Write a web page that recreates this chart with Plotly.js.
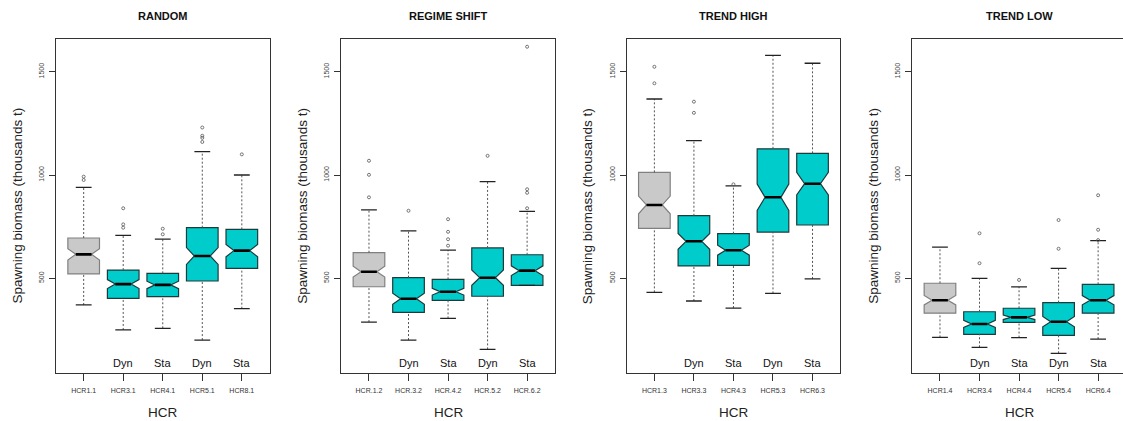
<!DOCTYPE html>
<html><head><meta charset="utf-8">
<script src="https://cdn.plot.ly/plotly-3.0.1.min.js"></script>
<style>html,body{margin:0;padding:0;overflow:hidden;background:#fff}</style>
</head><body><div id="chart"></div>
<script>
// ---- data (thousands t) ----
const scenarios = ['RANDOM', 'REGIME SHIFT', 'TREND HIGH', 'TREND LOW'];
const hcrLabels = [
  ['HCR1.1', 'HCR3.1', 'HCR4.1', 'HCR5.1', 'HCR8.1'],
  ['HCR.1.2', 'HCR.3.2', 'HCR.4.2', 'HCR.5.2', 'HCR.6.2'],
  ['HCR1.3', 'HCR3.3', 'HCR4.3', 'HCR5.3', 'HCR6.3'],
  ['HCR1.4', 'HCR3.4', 'HCR4.4', 'HCR5.4', 'HCR6.4']
];
const ruleType = ['', 'Dyn', 'Sta', 'Dyn', 'Sta'];
const lowerWhisker = [
  [371, 250, 258, 201, 353],
  [288, 201, 306, 156, 466],
  [432, 390, 356, 427, 497],
  [214, 166, 213, 137, 206]
];
const q1 = [
  [521, 403, 411, 487, 548],
  [459, 335, 393, 413, 466],
  [742, 560, 563, 724, 758],
  [331, 229, 287, 224, 331]
];
const median = [
  [616, 472, 468, 608, 634],
  [532, 401, 435, 503, 537],
  [855, 679, 636, 892, 958],
  [394, 279, 311, 290, 394]
];
const q3 = [
  [695, 540, 524, 745, 737],
  [624, 503, 495, 647, 614],
  [1013, 803, 716, 1127, 1105],
  [476, 338, 355, 382, 471]
];
const upperWhisker = [
  [940, 708, 690, 1113, 1000],
  [831, 730, 636, 968, 824],
  [1368, 1166, 947, 1579, 1541],
  [651, 500, 458, 548, 682]
];
const outliers = [
  [[976, 992], [745, 761, 839], [713, 740], [1160, 1180, 1190, 1230], [1100]],
  [[892, 1001, 1069], [827], [658, 689, 725, 786], [1093], [839, 914, 931, 1621]],
  [[1444, 1524], [1301, 1355], [955], [], []],
  [[], [573, 718], [492], [643, 782], [685, 735, 902]]
];
const nRuns = 100;  // simulations per box (sets the notch span, R: 1.58*IQR/sqrt(n))

// ---- layout helpers ----
const W = 1127, H = 421;
const panelLeft = [56, 341.3, 626.7, 912.3];
const panelWidth = 213.5;
const plotTop = 39.3, plotBottom = 372.7;
const GRAY = '#c9c9c9', CYAN = '#00cccc';
const FONT = 'Liberation Sans, Arial, sans-serif';

const traces = [];
const layout = {
  width: W, height: H,
  margin: {l: 0, r: 0, t: 0, b: 0},
  paper_bgcolor: '#fff', plot_bgcolor: '#fff',
  showlegend: false, boxmode: 'overlay',
  font: {family: FONT, color: '#222'},
  annotations: []
};

scenarios.forEach((name, p) => {
  const xs = p === 0 ? '' : String(p + 1);
  const xa = 'x' + xs, ya = 'y' + xs;
  const pos = [1, 2, 3, 4, 5];
  const span = q1[p].map((v, i) => 1.58 * (q3[p][i] - v) / Math.sqrt(nRuns));

  // whiskers (dashed) and staples
  const wx = [], wy = [], sx = [], sy = [];
  pos.forEach((x, i) => {
    wx.push(x, x, null, x, x, null);
    wy.push(lowerWhisker[p][i], q1[p][i], null, q3[p][i], upperWhisker[p][i], null);
    sx.push(x - 0.2, x + 0.2, null, x - 0.2, x + 0.2, null);
    sy.push(lowerWhisker[p][i], lowerWhisker[p][i], null, upperWhisker[p][i], upperWhisker[p][i], null);
  });
  traces.push({type: 'scatter', mode: 'lines', x: wx, y: wy, xaxis: xa, yaxis: ya,
    line: {color: '#555', width: 1, dash: '2px,2px'}, hoverinfo: 'skip'});
  traces.push({type: 'scatter', mode: 'lines', x: sx, y: sy, xaxis: xa, yaxis: ya,
    line: {color: '#222', width: 1.3}, hoverinfo: 'skip'});

  // boxes
  const groups = [{idx: [0], fill: GRAY, line: '#808080'}, {idx: [1, 2, 3, 4], fill: CYAN, line: '#1f3a3a'}];
  groups.forEach(g => {
    traces.push({
      type: 'box', xaxis: xa, yaxis: ya,
      x: g.idx.map(i => pos[i]),
      q1: g.idx.map(i => q1[p][i]),
      median: g.idx.map(i => median[p][i]),
      q3: g.idx.map(i => q3[p][i]),
      lowerfence: g.idx.map(i => q1[p][i]),
      upperfence: g.idx.map(i => q3[p][i]),
      notchspan: g.idx.map(i => span[i]),
      notched: true, notchwidth: 0.25,
      width: 0.8, whiskerwidth: 0, boxpoints: false,
      fillcolor: g.fill, line: {color: g.line, width: 1.2}, hoverinfo: 'skip'
    });
  });

  // thick median bars
  const mx = [], my = [];
  pos.forEach((x, i) => { mx.push(x - 0.2, x + 0.2, null); my.push(median[p][i], median[p][i], null); });
  traces.push({type: 'scatter', mode: 'lines', x: mx, y: my, xaxis: xa, yaxis: ya,
    line: {color: '#000', width: 2.6}, hoverinfo: 'skip'});

  // outliers
  const ox = [], oy = [];
  outliers[p].forEach((arr, i) => arr.forEach(v => { ox.push(pos[i]); oy.push(v); }));
  traces.push({type: 'scatter', mode: 'markers', x: ox, y: oy, xaxis: xa, yaxis: ya,
    marker: {symbol: 'circle-open', size: 3, color: '#555', line: {width: 0.8, color: '#555'}},
    hoverinfo: 'skip'});

  const d0 = panelLeft[p] / W, d1 = (panelLeft[p] + panelWidth) / W;
  layout['xaxis' + xs] = {
    domain: [d0, Math.min(d1, 1)], range: [0.3, 5.7], anchor: ya,
    tickmode: 'array', tickvals: pos, ticktext: hcrLabels[p],
    ticks: 'outside', ticklen: 7, tickwidth: 1, tickcolor: '#333',
    tickfont: {size: 7, color: '#333', family: FONT}, ticklabelstandoff: 4,
    showline: true, mirror: true, linecolor: '#333', linewidth: 1.2,
    showgrid: false, zeroline: false, fixedrange: true
  };
  layout['yaxis' + xs] = {
    domain: [1 - plotBottom / H, 1 - plotTop / H], range: [43, 1657], anchor: xa,
    tickmode: 'array', tickvals: [500, 1000, 1500], ticktext: ['500', '1000', '1500'],
    ticks: 'outside', ticklen: 6, tickwidth: 1, tickcolor: '#333', tickangle: -90,
    tickfont: {size: 7, color: '#444', family: FONT}, ticklabelstandoff: 2,
    showline: true, mirror: true, linecolor: '#333', linewidth: 1.2,
    showgrid: false, zeroline: false, fixedrange: true
  };

  const cx = (panelLeft[p] + panelWidth / 2) / W;
  layout.annotations.push({text: '<b>' + name + '</b>', xref: 'paper', yref: 'paper',
    x: cx, y: 1 - 16 / H, xanchor: 'center', yanchor: 'middle', showarrow: false,
    font: {size: 11, color: '#111', family: FONT}});
  layout.annotations.push({text: 'HCR', xref: 'paper', yref: 'paper',
    x: cx, y: 1 - 412 / H, xanchor: 'center', yanchor: 'middle', showarrow: false,
    font: {size: 13.5, color: '#222', family: FONT}});
  layout.annotations.push({text: 'Spawning biomass (thousands t)', xref: 'paper', yref: 'paper',
    x: (panelLeft[p] - 39.5) / W, y: 1 - (plotTop + plotBottom) / 2 / H, textangle: -90,
    xanchor: 'center', yanchor: 'middle', showarrow: false,
    font: {size: 13.5, color: '#222', family: FONT}});
  ruleType.forEach((t, i) => {
    if (!t) return;
    layout.annotations.push({text: t, xref: xa, yref: ya + ' domain', x: pos[i], y: 0.028,
      xanchor: 'center', yanchor: 'middle', showarrow: false,
      font: {size: 11, color: '#111', family: FONT}});
  });
});

Plotly.newPlot('chart', traces, layout, {displayModeBar: false, staticPlot: true});
</script>
</body></html>
